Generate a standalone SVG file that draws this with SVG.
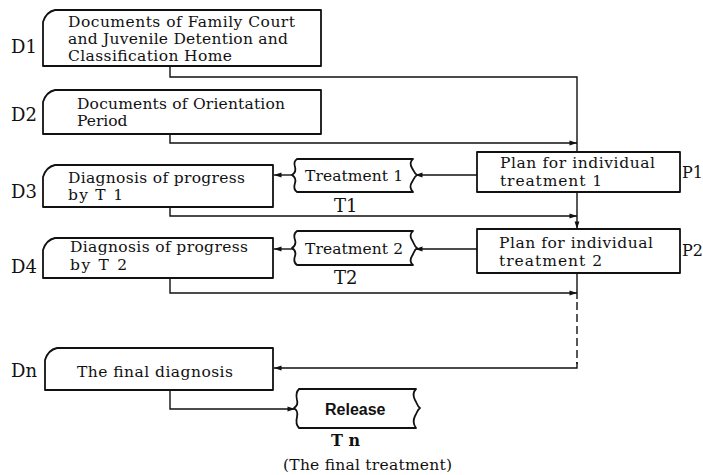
<svg xmlns="http://www.w3.org/2000/svg" width="703" height="475" viewBox="0 0 703 475">
<style>
.box{fill:#fff;stroke:#111;stroke-width:1.8;stroke-linejoin:round}
.ln{fill:none;stroke:#111;stroke-width:1.4}
.t{font-family:"DejaVu Serif","Liberation Serif",serif;font-size:15.5px;fill:#111}
.lab{font-family:"DejaVu Serif","Liberation Serif",serif;font-size:18px;fill:#111}
</style>
<defs>
<marker id="ah" viewBox="0 0 10 8" refX="10" refY="4" markerWidth="8" markerHeight="6" orient="auto" markerUnits="userSpaceOnUse">
<path d="M0,0.8 L10,4 L0,7.2 Z" fill="#111"/>
</marker>
</defs>
<rect width="703" height="475" fill="#fff"/>

<g id="connectors">
<polyline class="ln" points="170,66 170,77 577,77 577,152"/>
<polyline class="ln" points="170,134 170,143 577,143" marker-end="url(#ah)"/>
<line class="ln" x1="477" y1="175" x2="415" y2="175" marker-end="url(#ah)"/>
<line class="ln" x1="293" y1="175" x2="274" y2="175" marker-end="url(#ah)"/>
<polyline class="ln" points="170,207 170,216 577,216" marker-end="url(#ah)"/>
<line class="ln" x1="577" y1="192" x2="577" y2="229" marker-end="url(#ah)"/>
<line class="ln" x1="477" y1="249" x2="415" y2="249" marker-end="url(#ah)"/>
<line class="ln" x1="293" y1="249" x2="274" y2="249" marker-end="url(#ah)"/>
<polyline class="ln" points="170,278 170,293 577,293" marker-end="url(#ah)"/>
<line class="ln" x1="577" y1="273" x2="577" y2="299"/>
<line class="ln" x1="577" y1="302" x2="577" y2="364" stroke-dasharray="8,4"/>
<polyline class="ln" points="577,362 577,368 274,368" marker-end="url(#ah)"/>
<polyline class="ln" points="170,390 170,409 295,409" marker-end="url(#ah)"/>
</g>

<g id="D1">
<path class="box" d="M43,22 Q46,12 55,10 L321,10 L321,66 L43,66 Z"/>
<text class="lab" x="11" y="53">D1</text>
<text class="t" x="68" y="27" textLength="227" lengthAdjust="spacing">Documents of Family Court</text>
<text class="t" x="68" y="44" textLength="220" lengthAdjust="spacing">and Juvenile Detention and</text>
<text class="t" x="68" y="61" textLength="164" lengthAdjust="spacing">Classification Home</text>
</g>

<g id="D2">
<path class="box" d="M43,102 Q46,92 55,90 L321,90 L321,134 L43,134 Z"/>
<text class="lab" x="11" y="121">D2</text>
<text class="t" x="77" y="109" textLength="208" lengthAdjust="spacing">Documents of Orientation</text>
<text class="t" x="77" y="126">Period</text>
</g>

<g id="D3">
<path class="box" d="M43,177 Q46,167 55,165 L273,165 L273,207 L43,207 Z"/>
<text class="lab" x="11" y="198">D3</text>
<text class="t" x="68" y="183" textLength="177" lengthAdjust="spacing">Diagnosis of progress</text>
<text class="t" x="68" y="200" textLength="55" lengthAdjust="spacing">by T 1</text>
</g>

<g id="D4">
<path class="box" d="M43,250 Q46,240 55,238 L273,238 L273,278 L43,278 Z"/>
<text class="lab" x="11" y="273">D4</text>
<text class="t" x="70" y="252" textLength="178" lengthAdjust="spacing">Diagnosis of progress</text>
<text class="t" x="70" y="270" textLength="57" lengthAdjust="spacing">by T 2</text>
</g>

<g id="Dn">
<path class="box" d="M45,360 Q48,350 57,348 L273,348 L273,390 L45,390 Z"/>
<text class="lab" x="11" y="377">Dn</text>
<text class="t" x="77" y="377" textLength="156" lengthAdjust="spacing">The final diagnosis</text>
</g>

<g id="T1">
<path class="box" d="M297,159 L413,159 C410,161 410,165 412,168 C414,171 414,173 417,175 C414,177 414,179 412,182 C410,185 410,189 413,192 L297,192 C294,190 294,186 295,183 C296,180 295,177 292,175 C295,173 296,170 295,167 C294,164 294,161 297,159 Z"/>
<text class="t" x="305" y="181" textLength="98" lengthAdjust="spacing">Treatment 1</text>
<text class="lab" x="334" y="212">T1</text>
</g>

<g id="T2">
<path class="box" d="M297,231 L413,231 C410,233 410,237 412,240 C414,243 414,246 417,248 C414,250 414,253 412,256 C410,259 410,263 413,265 L297,265 C294,263 294,259 295,256 C296,253 295,250 292,248 C295,246 296,243 295,240 C294,237 294,233 297,231 Z"/>
<text class="t" x="305" y="254" textLength="98" lengthAdjust="spacing">Treatment 2</text>
<text class="lab" x="334" y="284">T2</text>
</g>

<g id="P1">
<rect class="box" x="477" y="152" width="203" height="40"/>
<text class="t" x="500" y="168" textLength="155" lengthAdjust="spacing">Plan for individual</text>
<text class="t" x="500" y="186" textLength="102" lengthAdjust="spacing">treatment 1</text>
<text class="lab" x="682" y="178" font-size="16" style="font-size:16px">P1</text>
</g>

<g id="P2">
<rect class="box" x="477" y="229" width="203" height="44"/>
<text class="t" x="499" y="248" textLength="154" lengthAdjust="spacing">Plan for individual</text>
<text class="t" x="499" y="266" textLength="103" lengthAdjust="spacing">treatment 2</text>
<text class="lab" x="682" y="256" style="font-size:16px">P2</text>
</g>

<g id="Tn">
<path class="box" d="M299,389 L416,389 C413,392 413,396 415,400 C417,403 417,406 420,408 C417,410 417,413 415,416 C413,420 413,424 416,428 L299,428 C296,425 296,421 297,417 C298,413 297,410 294,408 C297,406 298,403 297,400 C296,396 296,392 299,389 Z"/>
<text x="325" y="415" font-family="Liberation Sans, Arial, sans-serif" font-weight="bold" font-size="16" fill="#111">Release</text>
<text x="331" y="446" font-family="DejaVu Serif, Liberation Serif, serif" font-weight="bold" font-size="16" fill="#111">T n</text>
<text class="t" x="283" y="470" textLength="169" lengthAdjust="spacing">(The final treatment)</text>
</g>
</svg>
